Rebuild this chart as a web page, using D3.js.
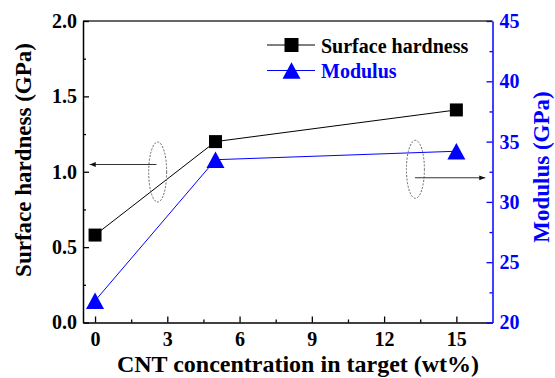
<!DOCTYPE html>
<html>
<head>
<meta charset="utf-8">
<script src="https://cdn.jsdelivr.net/npm/d3@7"></script>
<style>
  html, body { margin: 0; padding: 0; background: #fff; }
  svg { display: block; }
  text { font-family: "Liberation Serif", "Times New Roman", serif; font-weight: bold; }
</style>
</head>
<body>
<svg id="chart" width="555" height="378"></svg>
<script>
// CNT concentration in the target (wt%)
const concentration = [0, 5, 15];
// Surface hardness (GPa), left axis
const hardness = [0.58, 1.20, 1.41];
// Elastic modulus (GPa), right axis
const modulus = [21.8, 33.5, 34.2];

const xTicks = [0, 3, 6, 9, 12, 15];
const xMinor = [1.5, 4.5, 7.5, 10.5, 13.5];
const yLeftTicks = [0.0, 0.5, 1.0, 1.5, 2.0];
const yLeftMinor = [0.25, 0.75, 1.25, 1.75];
const yRightTicks = [20, 25, 30, 35, 40, 45];
const yRightMinor = [22.5, 27.5, 32.5, 37.5, 42.5];

const legendItems = ["Surface hardness", "Modulus"];

const BLUE = "#0000ff";
const svg = d3.select("#chart");
const m = { left: 83, right: 492.5, top: 21, bottom: 322.5 };

const x = d3.scaleLinear().domain([-0.5, 16.5]).range([m.left, m.right]);
const yL = d3.scaleLinear().domain([0, 2]).range([m.bottom, m.top]);
const yR = d3.scaleLinear().domain([20, 45]).range([m.bottom, m.top]);

svg.append("defs").append("marker")
  .attr("id", "arrow")
  .attr("viewBox", "0 0 10 10")
  .attr("refX", 10).attr("refY", 5)
  .attr("markerWidth", 8).attr("markerHeight", 6)
  .attr("markerUnits", "userSpaceOnUse")
  .attr("orient", "auto")
  .append("path").attr("d", "M0,1 L10,5 L0,9 Z").attr("fill", "#111");

// frame: top edge
svg.append("line")
  .attr("x1", m.left).attr("x2", m.right).attr("y1", m.top).attr("y2", m.top)
  .attr("stroke", "#333").attr("stroke-width", 1.5);

// axes with ticks pointing inward
function styleAxis(g, color) {
  g.select(".domain").attr("stroke", color).attr("stroke-width", 1.5);
  g.selectAll(".tick line").attr("stroke", color).attr("stroke-width", 1.3);
  g.selectAll(".tick text").attr("fill", color)
    .style("font-size", "20px").style("font-family", "Liberation Serif, serif").style("font-weight", "bold");
}

const gx = svg.append("g").attr("transform", `translate(0,${m.bottom})`)
  .call(d3.axisBottom(x).tickValues(xTicks).tickFormat(d3.format("d"))
    .tickSizeInner(-6).tickSizeOuter(0).tickPadding(14));
styleAxis(gx, "#000");
gx.selectAll(".tick text").attr("dy", "0.71em").attr("y", 9);
svg.append("g").attr("transform", `translate(0,${m.bottom})`)
  .call(d3.axisBottom(x).tickValues(xMinor).tickFormat("").tickSizeInner(-3).tickSizeOuter(0))
  .call(g => { g.select(".domain").remove(); g.selectAll("line").attr("stroke", "#000").attr("stroke-width", 1.3); });

const gl = svg.append("g").attr("transform", `translate(${m.left},0)`)
  .call(d3.axisLeft(yL).tickValues(yLeftTicks).tickFormat(d3.format(".1f"))
    .tickSizeInner(-6).tickSizeOuter(0).tickPadding(7));
styleAxis(gl, "#000");
gl.selectAll(".tick text").attr("x", -6);
svg.append("g").attr("transform", `translate(${m.left},0)`)
  .call(d3.axisLeft(yL).tickValues(yLeftMinor).tickFormat("").tickSizeInner(-3).tickSizeOuter(0))
  .call(g => { g.select(".domain").remove(); g.selectAll("line").attr("stroke", "#000").attr("stroke-width", 1.3); });

const gr = svg.append("g").attr("transform", `translate(${m.right},0)`)
  .call(d3.axisRight(yR).tickValues(yRightTicks).tickFormat(d3.format("d"))
    .tickSizeInner(-6).tickSizeOuter(0).tickPadding(7));
styleAxis(gr, BLUE);
gr.selectAll(".tick text").attr("x", 7);
svg.append("g").attr("transform", `translate(${m.right},0)`)
  .call(d3.axisRight(yR).tickValues(yRightMinor).tickFormat("").tickSizeInner(-3).tickSizeOuter(0))
  .call(g => { g.select(".domain").remove(); g.selectAll("line").attr("stroke", BLUE).attr("stroke-width", 1.3); });

// axis titles
svg.append("text")
  .attr("x", 298).attr("y", 372).attr("text-anchor", "middle")
  .style("font-size", "24px").attr("fill", "#000")
  .text("CNT concentration in target (wt%)");
svg.append("text")
  .attr("transform", "translate(31,160) rotate(-90)").attr("text-anchor", "middle")
  .style("font-size", "23px").attr("fill", "#000")
  .text("Surface hardness (GPa)");
svg.append("text")
  .attr("transform", "translate(549,167) rotate(-90)").attr("text-anchor", "middle")
  .style("font-size", "23px").attr("fill", BLUE)
  .text("Modulus (GPa)");

// series lines
const hardPts = concentration.map((c, i) => [x(c), yL(hardness[i])]);
const modPts = concentration.map((c, i) => [x(c), yR(modulus[i])]);
svg.append("path").attr("d", d3.line()(hardPts))
  .attr("fill", "none").attr("stroke", "#000").attr("stroke-width", 1);
svg.append("path").attr("d", d3.line()(modPts))
  .attr("fill", "none").attr("stroke", BLUE).attr("stroke-width", 1);

const sq = d3.symbol().type(d3.symbolSquare).size(13 * 13);
const tri = 18; // triangle width
function triPath(cx, cy, w) {
  const h = w * 0.92;
  return `M${cx},${cy - h / 2} L${cx + w / 2},${cy + h / 2} L${cx - w / 2},${cy + h / 2} Z`;
}

svg.append("g").selectAll("path").data(hardPts).join("path")
  .attr("transform", d => `translate(${d[0]},${d[1]})`)
  .attr("d", sq).attr("fill", "#000");
svg.append("g").selectAll("path").data(modPts).join("path")
  .attr("d", d => triPath(d[0], d[1], tri)).attr("fill", BLUE);

// guide ellipses and arrows pointing to each series' axis
const guides = [
  { cx: x(2.6), cy: yL(0.998), rx: 9, ry: 30, ax1: x(2.55), ax2: x(-0.22), ay: yL(1.048) },
  { cx: x(13.3), cy: yR(32.7), rx: 9, ry: 29, ax1: x(13.28), ax2: x(16.2), ay: yR(32.0) }
];
guides.forEach(g => {
  svg.append("ellipse")
    .attr("cx", g.cx).attr("cy", g.cy).attr("rx", g.rx).attr("ry", g.ry)
    .attr("fill", "none").attr("stroke", "#666").attr("stroke-width", 1)
    .attr("stroke-dasharray", "2,1.5");
  svg.append("line")
    .attr("x1", g.ax1).attr("x2", g.ax2).attr("y1", g.ay).attr("y2", g.ay)
    .attr("stroke", "#333").attr("stroke-width", 1)
    .attr("marker-end", "url(#arrow)");
});

// legend
const lg = svg.append("g");
const rows = [
  { label: legendItems[0], color: "#000", cy: 45, base: 52.5, kind: "sq" },
  { label: legendItems[1], color: BLUE, cy: 70.5, base: 77.5, kind: "tri" }
];
rows.forEach(r => {
  lg.append("line").attr("x1", 267).attr("x2", 315).attr("y1", r.cy).attr("y2", r.cy)
    .attr("stroke", r.color).attr("stroke-width", 1);
  if (r.kind === "sq") {
    lg.append("path").attr("transform", `translate(291.5,${r.cy})`)
      .attr("d", d3.symbol().type(d3.symbolSquare).size(14 * 14)).attr("fill", r.color);
  } else {
    lg.append("path").attr("d", triPath(291.5, r.cy, 18)).attr("fill", r.color);
  }
  lg.append("text").attr("x", 321).attr("y", r.base)
    .style("font-size", "20px").attr("fill", r.color).text(r.label);
});
</script>
</body>
</html>
